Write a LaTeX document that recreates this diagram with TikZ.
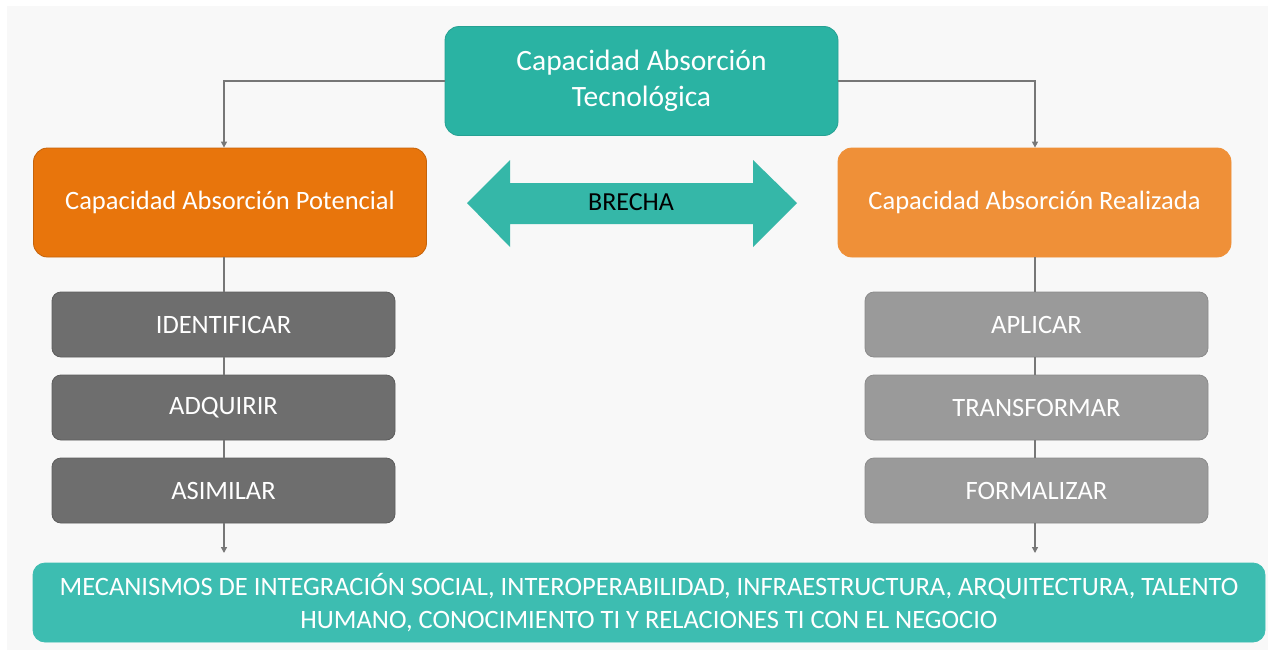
\documentclass[tikz,border=0pt]{standalone}
\usepackage{fontspec}
\setmainfont{Carlito}
\usetikzlibrary{arrows.meta}
\definecolor{bgc}{HTML}{F8F8F8}
\definecolor{tealA}{HTML}{2AB3A3}
\definecolor{tealB}{HTML}{3DBDB1}
\definecolor{orgA}{HTML}{E8750C}
\definecolor{orgB}{HTML}{EF9038}
\definecolor{grA}{HTML}{6E6E6E}
\definecolor{grB}{HTML}{9A9A9A}
\definecolor{linec}{HTML}{777777}
\tikzset{
  box/.style={rounded corners=14pt, text=white, align=center, inner sep=0pt, line width=0.8pt},
  bigbox/.style={box, minimum width=393pt, minimum height=109pt},
  stagebox/.style={box, rounded corners=9pt, minimum width=343pt, minimum height=65pt, font=\fontsize{26.5}{30}\selectfont},
  conn/.style={draw=linec, line width=1.3pt},
  arr/.style={conn, -{Triangle[length=6pt,width=6pt]}},
}
\begin{document}
\begin{tikzpicture}[x=1pt,y=-1pt]
\useasboundingbox (0,0) rectangle (1275,656);
\fill[white] (0,0) rectangle (1275,656);
\fill[bgc] (7,6) rectangle (1268,650);
% top
\node[bigbox, fill=tealA, draw=tealA!90!black, font=\fontsize{29.5}{36}\selectfont] (top) at (641.5,81) {Capacidad Absorción\\Tecnológica};
\node[bigbox, fill=orgA, draw=orgA!85!black, font=\fontsize{26.5}{30}\selectfont] (pot) at (230,202.5) {Capacidad Absorción Potencial};
\node[bigbox, fill=orgB, draw=orgB, font=\fontsize{26.5}{30}\selectfont] (rea) at (1034.5,202.5) {Capacidad Absorción Realizada};
% stages
\node[stagebox, fill=grA, draw=grA!85!black] (id) at (223.5,324.5) {IDENTIFICAR};
\node[stagebox, fill=grA, draw=grA!85!black] (ad) at (223.5,407.5) {ADQUIRIR};
\node[stagebox, fill=grA, draw=grA!85!black] (as) at (223.5,490.5) {ASIMILAR};
\node[stagebox, fill=grB, draw=grB!90!black] (ap) at (1036.5,324.5) {APLICAR};
\node[stagebox, fill=grB, draw=grB!90!black] (tr) at (1036.5,407.5) {TRANSFORMAR};
\node[stagebox, fill=grB, draw=grB!90!black] (fo) at (1036.5,490.5) {FORMALIZAR};
% bottom
\node[box, rounded corners=12pt, fill=tealB, draw=tealB, minimum width=1232pt, minimum height=79pt, font=\fontsize{26.5}{33}\selectfont] (bot) at (649,602.5) {MECANISMOS DE INTEGRACIÓN SOCIAL, INTEROPERABILIDAD, INFRAESTRUCTURA, ARQUITECTURA, TALENTO\\HUMANO, CONOCIMIENTO TI Y RELACIONES TI CON EL NEGOCIO};
% brecha arrow
\fill[tealA!95!white] (467,203) -- (510,160) -- (510,183) -- (753,183) -- (753,160) -- (797,203) -- (753,247) -- (753,224) -- (510,224) -- (510,247) -- cycle;
\node[font=\fontsize{26}{30}\selectfont, text=black] (br) at (631,202) {BRECHA};
% connectors
\coordinate (lpt) at (224,81);
\coordinate (rpt) at (1035,81);
\draw[arr] (top.west) -- (lpt) -- (lpt |- pot.north);
\draw[arr] (top.east) -- (rpt) -- (rpt |- rea.north);
\coordinate (lb) at (224,553);
\coordinate (rb) at (1035,553);
\draw[conn] (lpt |- pot.south) -- (lpt |- id.north);
\draw[conn] (lpt |- id.south) -- (lpt |- ad.north);
\draw[conn] (lpt |- ad.south) -- (lpt |- as.north);
\draw[arr] (lpt |- as.south) -- (lb);
\draw[conn] (rpt |- rea.south) -- (rpt |- ap.north);
\draw[conn] (rpt |- ap.south) -- (rpt |- tr.north);
\draw[conn] (rpt |- tr.south) -- (rpt |- fo.north);
\draw[arr] (rpt |- fo.south) -- (rb);
\end{tikzpicture}
\end{document}
